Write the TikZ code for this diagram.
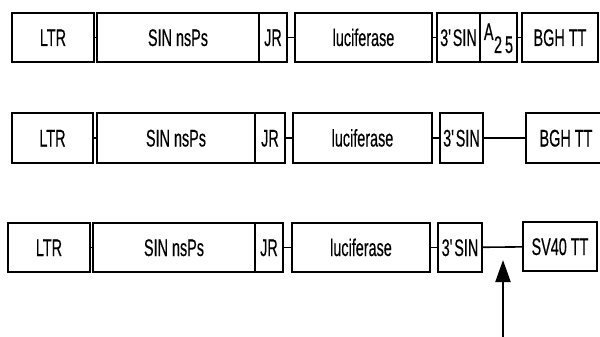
\documentclass[tikz,border=0pt]{standalone}
\usepackage{fontspec}
\newfontfamily\labfont{Liberation Sans}[FakeStretch=0.6,FakeBold=0.4]
\usetikzlibrary{arrows.meta}
\begin{document}
\begin{tikzpicture}[x=1pt,y=-1pt,
  seg/.style={draw,line width=1.8pt,inner sep=0pt,minimum height=49pt,
    text height=17pt,text depth=0pt,font=\labfont\fontsize{24}{26}\selectfont},
  link/.style={line width=1.6pt},
  pointer/.style={line width=2.2pt,-{Triangle[width=15pt,length=22pt]}}]
\useasboundingbox (0,0) rectangle (600,337);
% ---- row 1
\node[seg,minimum width=82pt]  (ltrA) at (53,37.5) {LTR};
\node[seg,minimum width=162pt] (sinA) at (178,37.5) {SIN nsPs};
\node[seg,minimum width=28pt]  (jrA)  at (273,37.5) {JR};
\node[seg,minimum width=137pt] (lucA) at (363.5,37.5) {luciferase};
\node[seg,minimum width=43pt]  (tsA)  at (458.5,37.5) {3\textquotesingle SIN};
\node[seg,minimum width=37pt]  (paA)  at (498.5,37.5)
  {\raisebox{6pt}{A}\hspace{0.5pt}\raisebox{-7pt}{2\hspace{3pt}5}};
\node[seg,minimum width=76pt]  (bghA) at (560,37.5) {BGH TT};
\draw[link] (ltrA) -- (sinA);
\draw[link] (jrA) -- (lucA);
\draw[link] (lucA) -- (tsA);
\draw[link] (paA) -- (bghA);
% ---- row 2
\node[seg,minimum height=50pt,minimum width=81pt]  (ltrB) at (52.5,138) {LTR};
\node[seg,minimum height=50pt,minimum width=158pt] (sinB) at (176,138) {SIN nsPs};
\node[seg,minimum height=50pt,minimum width=30pt]  (jrB)  at (270,138) {JR};
\node[seg,minimum height=50pt,minimum width=139pt] (lucB) at (362.5,138) {luciferase};
\node[seg,minimum height=50pt,minimum width=43pt]  (tsB)  at (461.5,138) {3\textquotesingle SIN};
\node[seg,minimum height=50pt,minimum width=80pt]  (bghB) at (566,138) {BGH TT};
\draw[link] (ltrB) -- (sinB);
\draw[link] (jrB) -- (lucB);
\draw[link] (lucB) -- (tsB);
\draw[link] (tsB) -- (bghB);
% ---- row 3
\node[seg,minimum width=82pt]  (ltrC) at (49,247.5) {LTR};
\node[seg,minimum width=162pt] (sinC) at (174,247.5) {SIN nsPs};
\node[seg,minimum width=28pt]  (jrC)  at (269,247.5) {JR};
\node[seg,minimum width=138pt] (lucC) at (361,247.5) {luciferase};
\node[seg,minimum width=44pt]  (tsC)  at (460,247.5) {3\textquotesingle SIN};
\node[seg,minimum width=74pt]  (svC)  at (560,246.5) {SV40 TT};
\draw[link] (ltrC) -- (sinC);
\draw[link] (jrC) -- (lucC);
\draw[link] (lucC) -- (tsC);
\draw[link] (tsC) -- (svC);
% ---- arrow
\coordinate (arrowfoot) at (503,340);
\coordinate (arrowtip) at (503,260);
\draw[pointer] (arrowfoot) -- (arrowtip);
\end{tikzpicture}
\end{document}
